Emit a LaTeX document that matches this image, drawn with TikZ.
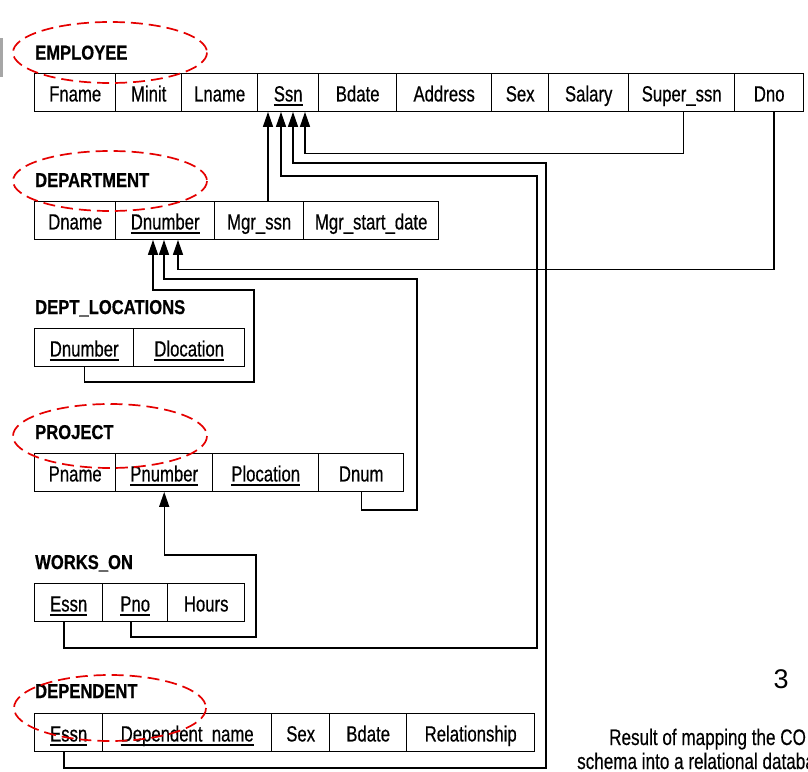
\documentclass[tikz,border=0pt]{standalone}
\usepackage{fontspec}
\setmainfont{Liberation Sans}
\newfontfamily\tabfont[FakeStretch=0.76,FakeBold=0.5]{Liberation Sans}
\newfontfamily\ttlfont[FakeStretch=0.83,FakeBold=0.6]{Liberation Sans}
\newfontfamily\capfont[FakeStretch=0.76,FakeBold=0.3]{Liberation Sans}
\usetikzlibrary{arrows.meta,calc}
\newcommand{\ulx}[1]{\vtop{\hbox{\raisebox{0pt}[\height][0pt]{#1}}\kern2.8pt\hrule height 1.3pt}}
\begin{document}
\begin{tikzpicture}[x=1pt,y=-1pt,
  cell/.style={draw=black, line width=1.4pt, anchor=north west, inner sep=0pt,
    minimum height=37.5pt, text height=20pt, text depth=2pt, fill=white,
    font=\tabfont\fontsize{22}{24}\selectfont},
  ttl/.style={anchor=base west, inner sep=0pt, font=\ttlfont\bfseries\fontsize{20}{22}\selectfont},
  fk/.style={draw=black, line width=1.4pt, -{Triangle[length=15pt,width=10pt]}},
  redring/.style={draw=red!90!black, line width=1.7pt, dash pattern=on 12pt off 6pt},
  captxt/.style={anchor=base west, inner sep=0pt, font=\capfont\fontsize{22.5}{25}\selectfont}]
\useasboundingbox (0,0) rectangle (808,771);
\clip (0,0) rectangle (808,771);
\fill[white] (0,0) rectangle (808,771);
\fill[gray!70] (0,38) rectangle (2.5,77);

% EMPLOYEE
\node[ttl] (temp) at (35,59.5) {EMPLOYEE};
\node[cell,minimum width=81pt]  (fname)    at (34,73)  {Fname};
\node[cell,minimum width=66pt]  (minit)    at (115,73) {Minit};
\node[cell,minimum width=76pt]  (lname)    at (181,73) {Lname};
\node[cell,minimum width=61pt]  (ssn)      at (257,73) {\ulx{Ssn}};
\node[cell,minimum width=78pt]  (bdate)    at (318,73) {Bdate};
\node[cell,minimum width=95pt]  (address)  at (396,73) {Address};
\node[cell,minimum width=57pt]  (sex)      at (491,73) {Sex};
\node[cell,minimum width=80pt]  (salary)   at (548,73) {Salary};
\node[cell,minimum width=106pt] (superssn) at (628,73) {Super\_ssn};
\node[cell,minimum width=69pt]  (dno)      at (734,73) {Dno};

% DEPARTMENT
\node[ttl] (tdep) at (35,187) {DEPARTMENT};
\node[cell,minimum width=81pt]  (dname)   at (34,201)  {Dname};
\node[cell,minimum width=99pt]  (dnumber) at (115,201) {\ulx{Dnumber}};
\node[cell,minimum width=89pt]  (mgrssn)  at (214,201) {Mgr\_ssn};
\node[cell,minimum width=135pt] (mgrdate) at (303,201) {Mgr\_start\_date};

% DEPT_LOCATIONS
\node[ttl] (tloc) at (35,314) {DEPT\_LOCATIONS};
\node[cell,minimum width=99pt]  (dldnumber) at (34,328)  {\ulx{Dnumber}};
\node[cell,minimum width=111pt] (dlocation) at (133,328) {\ulx{Dlocation}};

% PROJECT
\node[ttl] (tproj) at (35,439) {PROJECT};
\node[cell,minimum width=81pt]  (pname)     at (34,453)  {Pname};
\node[cell,minimum width=97pt]  (pnumber)   at (115,453) {\ulx{Pnumber}};
\node[cell,minimum width=106pt] (plocation) at (212,453) {\ulx{Plocation}};
\node[cell,minimum width=85pt]  (dnum)      at (318,453) {Dnum};

% WORKS_ON
\node[ttl] (twork) at (35,569) {WORKS\_ON};
\node[cell,minimum width=68pt] (wessn) at (34,583)  {\ulx{Essn}};
\node[cell,minimum width=65pt] (pno)   at (102,583) {\ulx{Pno}};
\node[cell,minimum width=77pt] (hours) at (167,583) {Hours};

% DEPENDENT
\node[ttl] (tdepd) at (35,698) {DEPENDENT};
\node[cell,minimum width=68pt]  (dessn)        at (34,713)  {\ulx{Essn}};
\node[cell,minimum width=169pt] (depname)      at (102,713) {\ulx{Dependent\_name}};
\node[cell,minimum width=58pt]  (dsex)         at (271,713) {Sex};
\node[cell,minimum width=77pt]  (dbdate)       at (329,713) {Bdate};
\node[cell,minimum width=128pt] (relationship) at (406,713) {Relationship};

% arrow targets
\coordinate (ssnA) at ($(ssn.south west)+(11,0)$);
\coordinate (ssnB) at ($(ssn.south west)+(24,0)$);
\coordinate (ssnC) at ($(ssn.south west)+(36,0)$);
\coordinate (ssnD) at ($(ssn.south west)+(48,0)$);
\coordinate (dnA) at ($(dnumber.south west)+(38,0)$);
\coordinate (dnB) at ($(dnumber.south west)+(49,0)$);
\coordinate (dnC) at ($(dnumber.south west)+(63,0)$);

% foreign keys
\draw[fk] ($(superssn.south)+(2,0)$) -- ++(0,41.5) -| (ssnD);
\draw[fk] (mgrssn.north -| ssnA) -- (ssnA);
\draw[fk] ($(wessn.south west)+(30,0)$) |- (537,648) -- (537,176) -| (ssnB);
\draw[fk] ($(dessn.south west)+(30,0)$) |- (546,768) -- (546,163) -| (ssnC);
\draw[fk] ($(dno.south west)+(40,0)$) -- ++(0,157.5) -| (dnC);
\draw[fk] (dnum.south) |- (417,510) -- (417,279) -| (dnB);
\draw[fk] (dldnumber.south) |- (254,382) -- (254,290) -| (dnA);
\draw[fk] ($(pno.south west)+(29,0)$) |- (256,637) -- (256,555) -| (pnumber.south);

% red dashed rings
\draw[redring] (110,52.5) ellipse [x radius=97, y radius=30.5];
\draw[redring] (110,181) ellipse [x radius=97, y radius=30];
\draw[redring] (110,436) ellipse [x radius=97, y radius=32];
\draw[redring] (110,708) ellipse [x radius=96, y radius=33];

% caption
\node[anchor=base, inner sep=0pt, font=\fontsize{27}{30}\selectfont] (num) at (781,688) {3};
\node[captxt] (cap1) at (609,745) {Result of mapping the CO};
\node[captxt] (cap2) at (577,769) {schema into a relational databa};
\end{tikzpicture}
\end{document}
